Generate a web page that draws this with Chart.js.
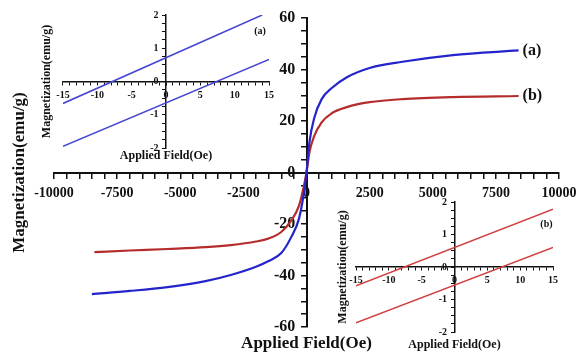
<!DOCTYPE html>
<html>
<head>
<meta charset="utf-8">
<script src="https://cdn.jsdelivr.net/npm/chart.js@4.4.1/dist/chart.umd.min.js"></script>
<style>
  body { margin: 0; background: #fff; }
  #wrap { position: relative; width: 584px; height: 352px; }
  #wrap canvas { position: absolute; }
  #mainChart { left: 0; top: 0; }
  #insetA { left: 0; top: 0; }
  #insetB { left: 320px; top: 190px; }
</style>
</head>
<body>
<div id="wrap">
  <canvas id="mainChart" width="584" height="352"></canvas>
  <canvas id="insetA" width="290" height="172"></canvas>
  <canvas id="insetB" width="264" height="162"></canvas>
</div>
<script>
// --- Data ---
const fieldA = [-8500, -7000, -5500, -4000, -3000, -2000, -1500, -1000, -600, -300, -120, 0, 120, 300, 600, 1000, 1600, 2500, 3800, 5800, 8400];
const magA   = [-47.2, -46.0, -44.5, -42.2, -39.8, -36.6, -34.4, -31.3, -25.0, -18.0, -9.0, 0, 12.0, 21.0, 28.5, 32.8, 37.0, 40.6, 43.0, 45.6, 47.4];
const fieldB = [-8400, -7000, -5500, -4000, -3000, -2000, -1500, -1000, -600, -300, -120, 0, 120, 300, 600, 1000, 1600, 2500, 3800, 5800, 8400];
const magB   = [-30.9, -30.3, -29.7, -29.0, -28.2, -26.8, -25.6, -23.1, -18.6, -13.0, -6.0, 0, 8.0, 14.0, 19.5, 23.0, 25.4, 27.3, 28.5, 29.3, 29.7];

// inset (a): low-field loop of sample a
const insetAUpperX = [-15, 14];
const insetAUpperY = [-0.66, 2.0];
const insetALowerX = [-15, 15];
const insetALowerY = [-1.95, 0.66];
// inset (b): low-field loop of sample b
const insetBUpperX = [-15, 15];
const insetBUpperY = [-0.58, 1.78];
const insetBLowerX = [-15, 15];
const insetBLowerY = [-1.72, 0.60];

const mainLabels = ['(a)', '(b)'];

const SERIF = '"Liberation Serif", "Times New Roman", serif';
const BLUE = '#2424cc';
const RED = '#b52c2c';

function pts(xs, ys) {
    return xs.map((x, i) => ({ x: x, y: ys[i] }));
}

// draws "(a)" / "(b)" right after the last point of each curve
const endLabelPlugin = {
    id: 'endLabels',
    afterDatasetsDraw(chart) {
        const ctx = chart.ctx;
        chart.data.datasets.forEach((ds, i) => {
            if (!ds.endLabel) return;
            const meta = chart.getDatasetMeta(i);
            const last = meta.data[meta.data.length - 1];
            ctx.save();
            ctx.font = 'bold 16px ' + SERIF;
            ctx.fillStyle = '#111';
            ctx.textAlign = 'left';
            ctx.textBaseline = 'middle';
            ctx.fillText(ds.endLabel, last.x + 4, last.y);
            ctx.restore();
        });
    }
};

// small tag inside an inset, placed in data coordinates
const tagPlugin = {
    id: 'tag',
    afterDatasetsDraw(chart, args, opts) {
        if (!opts.text) return;
        const ctx = chart.ctx;
        ctx.save();
        ctx.font = 'bold 10px ' + SERIF;
        ctx.fillStyle = '#111';
        ctx.textAlign = 'center';
        ctx.textBaseline = 'middle';
        ctx.fillText(opts.text, chart.scales.x.getPixelForValue(opts.x), chart.scales.y.getPixelForValue(opts.y));
        ctx.restore();
    }
};

// y labels on a crossing axis sit flush against it, so pad them with a trailing gap
const MAIN_GAP = '\u2002\u2009';
const INSET_GAP = '\u2002\u00a0';

// --- Main hysteresis chart ---
new Chart(document.getElementById('mainChart'), {
    type: 'scatter',
    data: {
        datasets: [
            { data: pts(fieldA, magA), borderColor: BLUE, endLabel: mainLabels[0] },
            { data: pts(fieldB, magB), borderColor: RED, endLabel: mainLabels[1] }
        ].map(d => Object.assign(d, { showLine: true, pointRadius: 0, borderWidth: 2.2, cubicInterpolationMode: 'monotone' }))
    },
    options: {
        responsive: false,
        animation: false,
        layout: { padding: { left: 0, right: 20, top: 18, bottom: 0 } },
        plugins: {
            legend: { display: false },
            tooltip: { enabled: false },
            title: {
                display: true, position: 'left', fullSize: false,
                text: 'Magnetization(emu/g)', color: '#111',
                font: { family: SERIF, size: 17, weight: 'bold', lineHeight: 1 },
                padding: { top: 11.5, bottom: 25.5 }
            },
            subtitle: {
                display: true, position: 'bottom', fullSize: false,
                text: 'Applied Field(Oe)', color: '#111',
                font: { family: SERIF, size: 17, weight: 'bold', lineHeight: 1 },
                padding: { top: 8, bottom: 0 }
            }
        },
        scales: {
            x: {
                type: 'linear', min: -10000, max: 10000,
                position: { y: 0 },
                border: { color: '#111', width: 2 },
                grid: { drawOnChartArea: false, color: '#111', lineWidth: 1.5, tickLength: 5 },
                ticks: {
                    stepSize: 500, maxTicksLimit: 1000, autoSkip: false, maxRotation: 0,
                    padding: 7.5, color: '#111',
                    font: { family: SERIF, size: 14, weight: 'bold' },
                    callback: v => (v % 2500 === 0 ? v : '')
                }
            },
            y: {
                type: 'linear', min: -60, max: 60,
                position: { x: 0 },
                border: { color: '#111', width: 2 },
                grid: { drawOnChartArea: false, color: '#111', lineWidth: 1.5, tickLength: 5 },
                ticks: {
                    stepSize: 5, maxTicksLimit: 1000, autoSkip: false,
                    color: '#111',
                    font: { family: SERIF, size: 16, weight: 'bold' },
                    callback: v => (v % 20 === 0 ? v + MAIN_GAP : '')
                }
            }
        }
    },
    plugins: [endLabelPlugin]
});

// --- Inset charts ---
function makeInset(canvasId, upper, lower, color, tag, pad) {
    return new Chart(document.getElementById(canvasId), {
        type: 'scatter',
        data: {
            datasets: [
                { data: upper, borderColor: color },
                { data: lower, borderColor: color }
            ].map(d => Object.assign(d, { showLine: true, pointRadius: 0, borderWidth: 1.5 }))
        },
        options: {
            responsive: false,
            animation: false,
            layout: { padding: pad.layout },
            plugins: {
                legend: { display: false },
                tooltip: { enabled: false },
                tag: tag,
                title: {
                    display: true, position: 'left', fullSize: false,
                    text: 'Magnetization(emu/g)', color: '#111',
                    font: { family: SERIF, size: 12, weight: 'bold' },
                    padding: pad.title
                },
                subtitle: {
                    display: true, position: 'bottom', fullSize: false,
                    text: 'Applied Field(Oe)', color: '#111',
                    font: { family: SERIF, size: 12, weight: 'bold' },
                    padding: pad.subtitle
                }
            },
            scales: {
                x: {
                    type: 'linear', min: -15, max: 15,
                    position: { y: 0 },
                    border: { color: '#111', width: 1.5 },
                    grid: { drawOnChartArea: false, color: '#111', lineWidth: 1, tickLength: 3 },
                    ticks: {
                        stepSize: 1, maxTicksLimit: 1000, autoSkip: false, maxRotation: 0,
                        padding: pad.xTick, color: '#111',
                        font: { family: SERIF, size: 10, weight: 'bold' },
                        callback: v => (v % 5 === 0 ? v : '')
                    }
                },
                y: {
                    type: 'linear', min: -2, max: 2,
                    position: { x: 0 },
                    border: { color: '#111', width: 1.5 },
                    grid: { drawOnChartArea: false, color: '#111', lineWidth: 1, tickLength: 3 },
                    ticks: {
                        stepSize: 0.25, maxTicksLimit: 1000, autoSkip: false,
                        color: '#111',
                        font: { family: SERIF, size: 10, weight: 'bold' },
                        callback: v => (Number.isInteger(v) ? v + INSET_GAP : '')
                    }
                }
            }
        },
        plugins: [tagPlugin]
    });
}

makeInset('insetA', pts(insetAUpperX, insetAUpperY), pts(insetALowerX, insetALowerY), '#4646d2',
    { text: '(a)', x: 13.7, y: 1.5 },
    { layout: { left: 0, right: 21, top: 15, bottom: 8.6 }, title: { top: 39.8, bottom: 8.8 }, subtitle: { top: 1, bottom: 0 }, xTick: 5 });

makeInset('insetB', pts(insetBUpperX, insetBUpperY), pts(insetBLowerX, insetBLowerY), '#d04040',
    { text: '(b)', x: 14, y: 1.3 },
    { layout: { left: 0, right: 31, top: 12, bottom: 0 }, title: { top: 15.8, bottom: 5.8 }, subtitle: { top: 5.6, bottom: 0 }, xTick: 4 });
</script>
</body>
</html>
